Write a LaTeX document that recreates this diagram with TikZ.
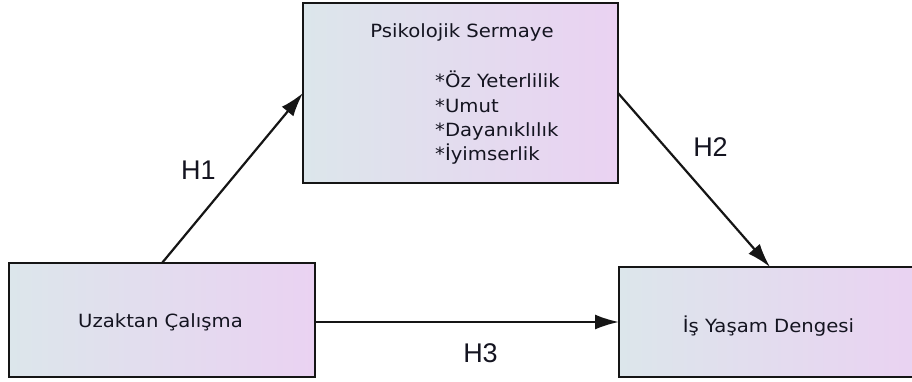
\documentclass[tikz,border=0pt]{standalone}
\usepackage{fontspec}
\usetikzlibrary{arrows.meta}
\newfontfamily\boxfont[FakeStretch=1.08]{DejaVu Sans}
\newfontfamily\hfont{Liberation Sans}
\definecolor{boxleft}{HTML}{DCE6EB}
\definecolor{boxright}{HTML}{EAD2F2}
\definecolor{txt}{HTML}{141420}
\definecolor{edge}{HTML}{151515}
\tikzset{
  box/.style={draw=edge, line width=2.1pt, left color=boxleft, right color=boxright, inner sep=0pt, outer sep=0pt},
  btext/.style={font=\boxfont\fontsize{18.2}{22}\selectfont, text=txt, inner sep=0pt, anchor=base},
  ltext/.style={btext, anchor=base west},
  htext/.style={font=\hfont\fontsize{27}{30}\selectfont, text=txt, inner sep=0pt, anchor=base},
  arr/.style={draw=edge, line width=2.2pt, -{Latex[length=24pt,width=15pt]}}
}
\begin{document}
\begin{tikzpicture}[x=1pt,y=-1pt]
\useasboundingbox (0,0) rectangle (912,382);
\fill[white] (0,0) rectangle (912,382);
\begin{scope}
\clip (0,0) rectangle (912,382);
% boxes
\node[box, minimum width=315pt, minimum height=180pt] (T) at (460.5,93) {};
\node[box, minimum width=306pt, minimum height=114pt] (L) at (162,320) {};
\node[box, minimum width=302pt, minimum height=110pt] (R) at (770,322) {};
\end{scope}
% texts
\node[btext] (ttitle) at (462,38) {Psikolojik Sermaye};
\node[ltext] (t1) at (435,88) {*Öz Yeterlilik};
\node[ltext] (t2) at (435,112.5) {*Umut};
\node[ltext] (t3) at (435,137) {*Dayanıklılık};
\node[ltext] (t4) at (435,161) {*İyimserlik};
\node[btext] (ltxt) at (160.5,327) {Uzaktan Çalışma};
\node[btext] (rtxt) at (768.5,332) {İş Yaşam Dengesi};
% connectors
\draw[arr] ([xshift=153pt]L.north west) -- ([yshift=-90pt]T.north west);
\draw[arr] ([yshift=-90pt]T.north east) -- ([xshift=151pt]R.north west);
\draw[arr] ([yshift=-2pt]L.east) -- (R.west);
% labels
\node[htext] (h1) at (198.5,179) {H1};
\node[htext] (h2) at (710.5,157) {H2};
\node[htext] (h3) at (480.5,362) {H3};
\end{tikzpicture}
\end{document}
